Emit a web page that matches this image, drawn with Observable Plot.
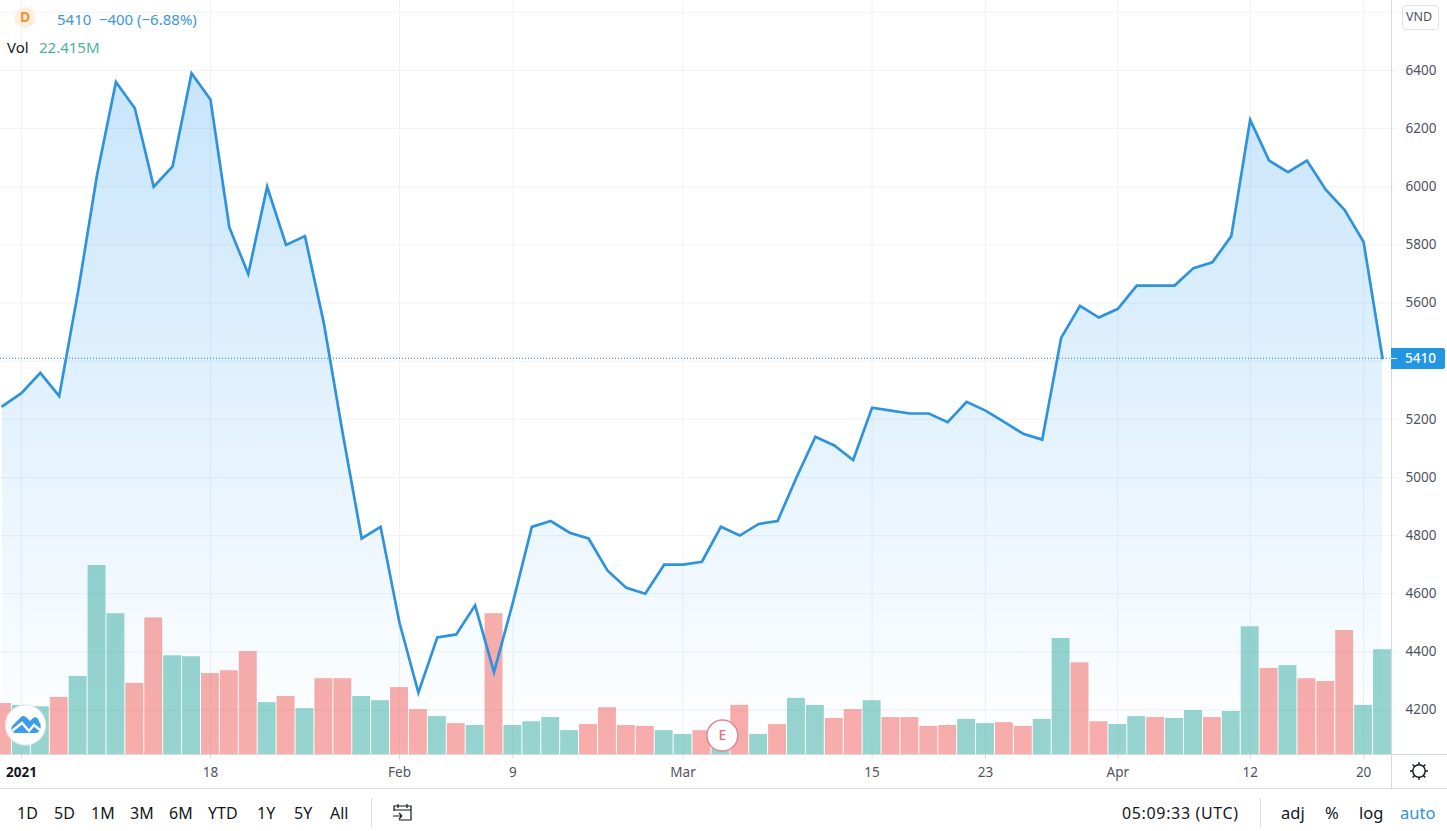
<!DOCTYPE html>
<html><head><meta charset="utf-8">
<script src="https://cdn.jsdelivr.net/npm/d3@7"></script>
<script src="https://cdn.jsdelivr.net/npm/@observablehq/plot@0.6"></script>
<style>
html,body{margin:0;padding:0;background:#fff;overflow:hidden}
#wrap{position:relative;width:1447px;height:831px;font-family:"Noto Sans",sans-serif;color:#131722}
#wrap svg{display:block}
.t{position:absolute;white-space:nowrap;line-height:20px;transform:translateY(-50%)}
.ln{position:absolute;background:#d6d9de}
</style></head><body>
<div id="wrap"><div id="chart"></div></div>
<script>
const closes = [5245,5290,5360,5280,5640,6040,6360,6270,6000,6070,6390,6300,5860,5700,6000,5800,5830,5530,5150,4790,4830,4500,4260,4450,4460,4560,4330,4570,4830,4850,4810,4790,4680,4620,4600,4700,4700,4710,4830,4800,4840,4850,5000,5140,5110,5060,5240,5230,5220,5220,5190,5260,5230,5190,5150,5130,5480,5590,5550,5580,5660,5660,5660,5720,5740,5830,6230,6090,6050,6090,5990,5920,5810,5410];
const volumes = [10.9,10.5,10.2,12.2,16.7,40.4,30.1,15.2,29.2,21.1,20.9,17.3,17.9,22.0,11.1,12.4,9.8,16.2,16.2,12.4,11.5,14.3,9.6,8.1,6.6,6.2,30.1,6.2,7.0,7.9,5.1,6.4,10.0,6.2,6.0,5.1,4.3,5.1,4.1,10.5,4.3,6.4,12.0,10.5,7.7,9.6,11.5,7.9,7.9,6.0,6.2,7.5,6.6,6.8,6.0,7.5,24.8,19.6,7.0,6.4,8.1,7.9,7.7,9.4,7.9,9.2,27.3,18.4,19.0,16.2,15.6,26.5,10.5,22.4];
const directions = "d u u d u u u d d u u d d d u d u d d u u d d u d u d u u u u d d d d u u d u d u d u u d d u d d d d u u d d u u d d u u d u u d u u d u d d d u u".split(" ");
const xTicks = [1,11,21,27,36,46,52,59,66,72];
const xLabels = ["2021","18","Feb","9","Mar","15","23","Apr","12","20"];
const yTicks = [4200,4400,4600,4800,5000,5200,5400,5600,5800,6000,6200,6400,6600];
const lastPrice = 5410;
const yDomain = [4047,6640.5];
const xDomain = [-0.106,73.476];
const volumeUnit = 16.09; // price-axis units per million shares
const rows = closes.map((close,i)=>({i,close,vol:volumes[i],dir:directions[i]}));
const GRID="#eff1f4", AXIS="#d6d9de", TEXT="#50535e";

const plot = Plot.plot({
  width:1447,height:788,marginLeft:0,marginRight:56,marginTop:0,marginBottom:34,
  style:{fontFamily:'"Noto Sans",sans-serif',fontSize:"13.5px",background:"#fff",overflow:"hidden"},
  x:{type:"linear",domain:xDomain,axis:null},
  y:{type:"linear",domain:yDomain,axis:null},
  color:{type:"ordinal",domain:["u","d"],range:["#26a69a","#ef5350"]},
  marks:[
    () => { const s=d3.create("svg:defs");
      const g=s.append("linearGradient").attr("id","areaFill").attr("x1",0).attr("y1",0).attr("x2",0).attr("y2",1);
      g.append("stop").attr("offset","0%").attr("stop-color","#2196f3").attr("stop-opacity",0.25);
      g.append("stop").attr("offset","100%").attr("stop-color","#2196f3").attr("stop-opacity",0.0);
      return s.node(); },
    Plot.gridY(yTicks,{stroke:GRID,strokeOpacity:1}),
    Plot.gridX(xTicks,{stroke:GRID,strokeOpacity:1}),
    Plot.areaY(rows,{x:"i",y1:()=>yDomain[0],y2:"close",fill:"url(#areaFill)"}),
    Plot.ruleY([lastPrice],{stroke:"#2a7fb8",strokeDasharray:"1 2",strokeWidth:1}),
    Plot.rectY(rows,{x1:d=>d.i-0.5,x2:d=>d.i+0.5,y1:()=>yDomain[0],y2:d=>yDomain[0]+d.vol*volumeUnit,fill:"dir",fillOpacity:0.48,insetLeft:0.5,insetRight:0.5}),
    Plot.lineY(rows,{x:"i",y:"close",stroke:"#2e93dc",strokeWidth:2.7,strokeLinejoin:"miter",strokeMiterlimit:4}),
    Plot.ruleX([xDomain[1]],{stroke:AXIS}),
    Plot.axisY(yTicks,{anchor:"right",tickSize:5,tickPadding:9,stroke:GRID,fill:TEXT,label:null,
      tickFormat:d=>d===6600?"":String(d)}),
    Plot.axisX([xTicks[0]],{anchor:"bottom",tickSize:5,tickPadding:8,stroke:AXIS,fill:"#131722",fontWeight:700,label:null,
      tickFormat:()=>xLabels[0]}),
    Plot.axisX(xTicks.slice(1),{anchor:"bottom",tickSize:5,tickPadding:8,stroke:AXIS,fill:TEXT,label:null,
      tickFormat:d=>xLabels[xTicks.indexOf(d)]}),
    Plot.dot([38.08],{x:d=>d,y:()=>4112,r:15.5,fill:"#fff",stroke:"#e48691",strokeWidth:1.5}),
    Plot.text(["E"],{x:()=>38.08,y:()=>4112,fill:"#e0717f",fontSize:14,fontWeight:500})
  ]
});
const wrap=document.getElementById("wrap");
document.getElementById("chart").append(plot);
const lastY=plot.scale("y").apply(lastPrice);

function addText(s,x,y,style={}){const e=document.createElement("span");e.className="t";e.textContent=s;e.style.left=x+"px";e.style.top=y+"px";Object.assign(e.style,style);wrap.append(e);return e;}
function addLine(l,t,w,h){const e=document.createElement("div");e.className="ln";Object.assign(e.style,{left:l+"px",top:t+"px",width:w+"px",height:h+"px"});wrap.append(e);}
function addHtml(h){const d=document.createElement("div");d.innerHTML=h;wrap.append(d);}

// frame lines
addLine(0,788,1447,1); addLine(0,754,1447,1); addLine(1391,0,1,788);
addLine(371,798,1,29); addLine(1260,798,1,29);

// legend
addHtml(`<svg style="position:absolute;left:11px;top:4px" width="28" height="28"><circle cx="14" cy="13.5" r="10.5" fill="#fdeedd"/></svg>`);
addText("D",20,17,{color:"#f0923a",fontWeight:700,fontSize:"14px"});
addText("5410\u2002\u2212400 (\u22126.88%)",57,19,{color:"#3f97d6",fontSize:"15px"});
addText("Vol",7,46.5,{color:"#131722",fontSize:"15px"});
addText("22.415M",39,46.5,{color:"#4fb09b",fontSize:"15px"});

// currency badge
addHtml(`<div style="position:absolute;left:1402px;top:5px;width:35px;height:23px;border:1px solid #dfe1e6;border-radius:4px;background:#fff"></div>`);
addText("VND",1406,17,{color:"#50535e",fontSize:"12.5px"});

// last price label
addHtml(`<div style="position:absolute;left:1391px;top:${lastY-10}px;width:54px;height:21px;background:#2196e3;border-radius:0 2px 2px 0"></div>
<div style="position:absolute;left:1391px;top:${lastY}px;width:6px;height:1px;background:#fff"></div>`);
addText(String(lastPrice),1405,lastY+0.5,{color:"#fff",fontSize:"13.5px",fontWeight:500});

// logo
addHtml(`<svg style="position:absolute;left:0;top:700px" width="52" height="50">
<circle cx="25.5" cy="25" r="20" fill="#fff" stroke="#e8eaed" stroke-width="1.2"/>
<path d="M16 33C11 33 10 28 13 25L21 17C23 15 25 16 27 18L30 21L33 18C36 16 39 19 39 22C42 24 41 33 36 33Z" fill="#3d9ce8"/>
<path d="M12 31L22 23L29 31L34 25L40 30" fill="none" stroke="#fff" stroke-width="2.4"/></svg>`);

// gear
addHtml(`<svg style="position:absolute;left:1408px;top:760px" width="22" height="22" fill="none" stroke="#131722" stroke-width="1.4">
<circle cx="11" cy="11" r="6.2"/>
<path d="M11 2v3M11 17v3M2 11h3M17 11h3M4.6 4.6l2 2M15.4 15.4l2 2M4.6 17.4l2-2M15.4 6.6l2-2"/></svg>`);

// calendar
addHtml(`<svg style="position:absolute;left:392px;top:802px" width="22" height="22" fill="none" stroke="#131722" stroke-width="1.2">
<path d="M2 9V4h17v14H7M2 8h17M6 2v4M15 2v4M1 14h9M10 14l-3-3M10 14l-3 3"/></svg>`);

// toolbar
const ranges=[["1D",17],["5D",54],["1M",91],["3M",130],["6M",169],["YTD",208],["1Y",257],["5Y",294],["All",330]];
ranges.forEach(([s,x])=>addText(s,x,813,{fontSize:"16px"}));
addText("05:09:33 (UTC)",1122,813,{fontSize:"16px",letterSpacing:"0.65px"});
addText("adj",1281,813,{fontSize:"16.5px"});
addText("%",1325,813,{fontSize:"16.5px"});
addText("log",1359,813,{fontSize:"16.5px"});
addText("auto",1400,813,{fontSize:"16.5px",color:"#2e93dc"});
</script>
</body></html>
